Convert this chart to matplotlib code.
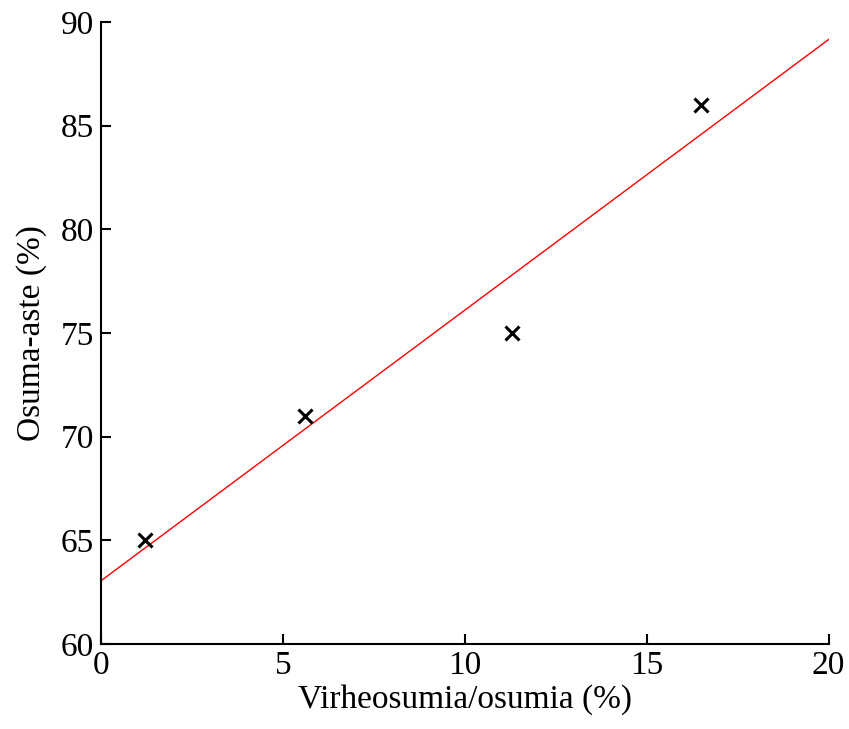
import numpy as np
import matplotlib.pyplot as plt

plt.rcParams['font.family'] = ['Liberation Serif', 'DejaVu Serif']

# mittaukset
virhe = [1.2, 5.6, 11.3, 16.5]
aste = [65, 71, 75, 86]

# sovitettu suora (päätepisteet luettu kuvasta)
suora_x = [0, 20]
suora_y = [63.05, 89.15]

fig = plt.figure(figsize=(8.49, 7.29), dpi=100)
ax = fig.add_axes([0.119, 0.1166, 0.857, 0.8534])
ax.plot(suora_x, suora_y, color='red', lw=1)
ax.plot(virhe, aste, 'x', color='black', ms=10, mew=2.2)

ax.set_xlim(0, 20)
ax.set_ylim(60, 90)
ax.set_xticks([0, 5, 10, 15, 20])
ax.set_yticks([60, 65, 70, 75, 80, 85, 90])
ax.spines['top'].set_visible(False)
ax.spines['right'].set_visible(False)
for s in ['left', 'bottom']:
    ax.spines[s].set_linewidth(1.5)
ax.tick_params(direction='in', length=7, width=1.5, labelsize=24, pad=5)
ax.set_xlabel('Virheosumia/osumia (%)', fontsize=24, labelpad=2)
ax.set_ylabel('Osuma-aste (%)', fontsize=24, labelpad=10)

fig.savefig('out.png', dpi=100)
